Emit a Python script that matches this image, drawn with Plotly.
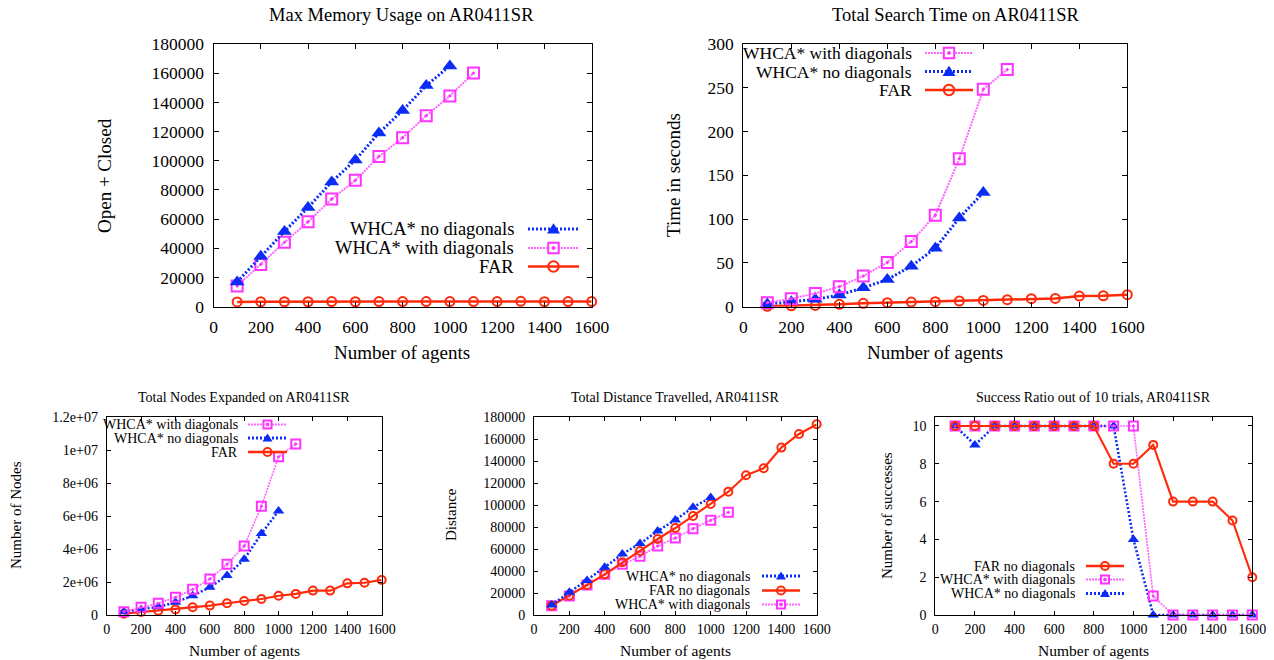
import plotly.graph_objects as go

W, H = 1274, 660
FONT = "Liberation Serif"

agents_far = [100, 200, 300, 400, 500, 600, 700, 800, 900, 1000, 1100, 1200, 1300, 1400, 1500, 1600]
agents_nodiag = [100, 200, 300, 400, 500, 600, 700, 800, 900, 1000]
agents_diag = [100, 200, 300, 400, 500, 600, 700, 800, 900, 1000, 1100]

# Max memory usage (Open + Closed)
mem_nodiag = [17000, 34500, 51500, 68000, 85500, 100500, 119000, 134500, 151500, 165000]
mem_diag = [14200, 29000, 44100, 58200, 73800, 86600, 103000, 115800, 130900, 144400, 160100]
mem_far = [3300, 3400, 3400, 3400, 3500, 3400, 3500, 3500, 3500, 3500, 3500, 3500, 3700, 3400, 3500, 3500]

# Total search time (seconds)
time_diag = [4.6, 9.1, 15.2, 22.8, 35.0, 50.5, 74.4, 104.4, 169.0, 248.4, 270.8]
time_nodiag = [3.0, 5.7, 8.4, 13.3, 21.6, 31.0, 46.3, 66.8, 101.4, 130.3]
time_far = [0.5, 1.1, 1.5, 2.7, 3.8, 4.6, 5.3, 5.7, 6.5, 7.2, 8.0, 9.1, 9.5, 12.2, 12.5, 13.7]

# Total nodes expanded
nodes_diag = [0.20e6, 0.47e6, 0.71e6, 1.07e6, 1.56e6, 2.19e6, 3.08e6, 4.19e6, 6.60e6, 9.60e6, 10.38e6]
nodes_nodiag = [0.20e6, 0.34e6, 0.50e6, 0.77e6, 1.17e6, 1.68e6, 2.39e6, 3.38e6, 4.94e6, 6.32e6]
nodes_far = [0.08e6, 0.18e6, 0.26e6, 0.34e6, 0.47e6, 0.57e6, 0.71e6, 0.85e6, 0.97e6, 1.17e6, 1.28e6, 1.48e6, 1.48e6, 1.92e6, 1.96e6, 2.13e6]
nodes_tickvals = [0, 2e6, 4e6, 6e6, 8e6, 1e7, 1.2e7]
nodes_ticktext = ["0", "2e+06", "4e+06", "6e+06", "8e+06", "1e+07", "1.2e+07"]

# Total distance travelled
dist_nodiag = [9100, 20600, 31300, 43400, 55600, 65000, 76500, 86500, 98100, 106900]
dist_far = [8500, 17600, 27300, 37000, 48000, 58300, 69200, 79200, 90200, 101100, 112300, 127200, 133600, 152400, 164800, 173600]
dist_diag = [8500, 17300, 27300, 37000, 46100, 53400, 62800, 70100, 78600, 86200, 93500]

# Success ratio out of 10 trials
succ_far = [10, 10, 10, 10, 10, 10, 10, 10, 8, 8, 9, 6, 6, 6, 5, 2]
succ_diag = [10, 10, 10, 10, 10, 10, 10, 10, 10, 10, 1, 0, 0, 0, 0, 0]
succ_nodiag = [10, 9, 10, 10, 10, 10, 10, 10, 10, 4, 0, 0, 0, 0, 0, 0]

RED = "#ff2a0a"
BLUE = "#0a2cf5"
MAG = "#ff33ff"
PINK = "#ff66ff"


def px(x):
    return x / W


def py(y):
    return 1 - y / H


# Panel geometry (pixel boxes): left, right, top, bottom
panels = {
    1: dict(box=(213.5, 591.7, 44, 306.7)),
    2: dict(box=(743.3, 1127.3, 44, 306.7)),
    3: dict(box=(106.7, 381.7, 417.3, 615)),
    4: dict(box=(534, 816.7, 417.3, 615)),
    5: dict(box=(935.3, 1252.3, 417.3, 615)),
}

fig = go.Figure()

STY = {
    "far": dict(color=RED, dash="solid", width=2.5, symbol="circle-open"),
    "nodiag": dict(color=BLUE, dash="2px,2px", width=3, symbol="triangle-up"),
    "diag": dict(color=PINK, dash="2px,1px", width=2, symbol="square-open-dot"),
}


def add(i, x, y, kind, big):
    s = STY[kind]
    size = {"far": 9, "nodiag": 13, "diag": 11}[kind] if big else {"far": 8, "nodiag": 10, "diag": 9}[kind]
    mcol = MAG if kind == "diag" else s["color"]
    suffix = "" if i == 1 else str(i)
    fig.add_trace(go.Scatter(
        x=x, y=y, mode="lines+markers", xaxis="x" + suffix, yaxis="y" + suffix,
        line=dict(color=s["color"], dash=s["dash"], width=s["width"] if big else s["width"] * 0.85),
        marker=dict(symbol=s["symbol"], size=size, color=mcol,
                    line=dict(color=mcol, width=2 if kind != "nodiag" else 0)),
        showlegend=False, cliponaxis=False,
    ))


# Panel 1
add(1, agents_far, mem_far, "far", True)
add(1, agents_diag, mem_diag, "diag", True)
add(1, agents_nodiag, mem_nodiag, "nodiag", True)
# Panel 2
add(2, agents_far, time_far, "far", True)
add(2, agents_nodiag, time_nodiag, "nodiag", True)
add(2, agents_diag, time_diag, "diag", True)
# Panel 3
add(3, agents_far, nodes_far, "far", False)
add(3, agents_nodiag, nodes_nodiag, "nodiag", False)
add(3, agents_diag, nodes_diag, "diag", False)
# Panel 4
add(4, agents_diag, dist_diag, "diag", False)
add(4, agents_far, dist_far, "far", False)
add(4, agents_nodiag, dist_nodiag, "nodiag", False)
# Panel 5
add(5, agents_far, succ_nodiag, "nodiag", False)
add(5, agents_far, succ_diag, "diag", False)
add(5, agents_far, succ_far, "far", False)

yranges = {1: [0, 180000], 2: [0, 300], 3: [0, 1.2e7], 4: [0, 180000], 5: [0, 10.46]}
ydticks = {1: 20000, 2: 50, 3: None, 4: 20000, 5: 2}

layout = dict(template="none", width=W, height=H,
              margin=dict(l=0, r=0, t=0, b=0, pad=0, autoexpand=False), autosize=False,
              paper_bgcolor="white", plot_bgcolor="white", showlegend=False,
              font=dict(family=FONT, color="black"))

for i, p in panels.items():
    l, r, t, b = p["box"]
    big = i <= 2
    fs = 17.5 if big else 14
    suffix = "" if i == 1 else str(i)
    common = dict(showline=True, linecolor="black", linewidth=1, mirror="ticks",
                  ticks="inside", ticklen=5 if big else 4, tickcolor="black", tickwidth=1,
                  showgrid=False, zeroline=False, automargin=False,
                  tickfont=dict(family=FONT, size=fs, color="black"), fixedrange=True)
    xa = dict(domain=[px(l), px(r)], range=[0, 1600], dtick=200, tick0=0, tickformat="d",
              anchor="y" + suffix, ticklabelstandoff=4 if big else 1, **common)
    ya = dict(domain=[py(b), py(t)], range=yranges[i], anchor="x" + suffix,
              ticklabelstandoff=5, **common)
    if ydticks[i]:
        ya.update(dtick=ydticks[i], tick0=0, tickformat="d")
    else:
        ya.update(tickvals=nodes_tickvals, ticktext=nodes_ticktext)
    layout["xaxis" + suffix] = xa
    layout["yaxis" + suffix] = ya

annotations = []
shapes = []


def text(x, y, s, size, angle=0, xanchor="center"):
    annotations.append(dict(x=px(x), y=py(y), xref="paper", yref="paper", text=s,
                            showarrow=False, textangle=angle, xanchor=xanchor, yanchor="middle",
                            font=dict(family=FONT, size=size, color="black")))


# Titles and axis labels
text(401, 15, "Max Memory Usage on AR0411SR", 18.5)
text(955, 15, "Total Search Time on AR0411SR", 18.5)
text(402, 353, "Number of agents", 19)
text(935, 353, "Number of agents", 19)
text(104, 175, "Open + Closed", 19, -90)
text(673, 175, "Time in seconds", 19, -90)

text(244, 397.5, "Total Nodes Expanded on AR0411SR", 14)
text(675, 397.5, "Total Distance Travelled, AR0411SR", 14)
text(1093, 397.5, "Success Ratio out of 10 trials, AR0411SR", 14)
for cx in (244, 675, 1093):
    text(cx, 650.5, "Number of agents", 15.5)
text(16, 515, "Number of Nodes", 15, -90)
text(451, 515, "Distance", 15, -90)
text(887, 515, "Number of successes", 15, -90)


def legend(entries, text_right, x0, x1, ys, size, msize):
    xm = (x0 + x1) / 2
    for (label, kind), y in zip(entries, ys):
        s = STY[kind]
        text(text_right, y, label, size, xanchor="right")
        shapes.append(dict(type="line", xref="paper", yref="paper", x0=px(x0), x1=px(x1),
                           y0=py(y), y1=py(y), line=dict(color=s["color"], width=s["width"], dash=s["dash"])))
        h = msize / 2
        if kind == "far":
            shapes.append(dict(type="circle", xref="paper", yref="paper",
                               x0=px(xm - h * 0.8), x1=px(xm + h * 0.8), y0=py(y - h * 0.8), y1=py(y + h * 0.8),
                               line=dict(color=RED, width=2)))
        elif kind == "diag":
            shapes.append(dict(type="rect", xref="paper", yref="paper",
                               x0=px(xm - h * 0.8), x1=px(xm + h * 0.8), y0=py(y - h * 0.8), y1=py(y + h * 0.8),
                               line=dict(color=MAG, width=2), fillcolor="white"))
            shapes.append(dict(type="rect", xref="paper", yref="paper",
                               x0=px(xm - 1.2), x1=px(xm + 1.2), y0=py(y - 1.2), y1=py(y + 1.2),
                               line=dict(color=MAG, width=1), fillcolor=MAG))
        else:
            path = "M {} {} L {} {} L {} {} Z".format(px(xm - h), py(y + h * 0.7), px(xm + h), py(y + h * 0.7),
                                                      px(xm), py(y - h * 0.9))
            shapes.append(dict(type="path", xref="paper", yref="paper", path=path,
                               line=dict(color=BLUE, width=0), fillcolor=BLUE))


legend([("WHCA* no diagonals", "nodiag"), ("WHCA* with diagonals", "diag"), ("FAR", "far")],
       516, 528, 579, [229, 248, 266.5], 18.5, 13)
legend([("WHCA* with diagonals", "diag"), ("WHCA* no diagonals", "nodiag"), ("FAR", "far")],
       914, 925, 973, [53, 71.5, 90], 17.5, 13)
legend([("WHCA* with diagonals", "diag"), ("WHCA* no diagonals", "nodiag"), ("FAR", "far")],
       240, 248, 287, [424.5, 438, 452], 14, 10)
legend([("WHCA* no diagonals", "nodiag"), ("FAR no diagonals", "far"), ("WHCA* with diagonals", "diag")],
       752, 762, 800, [576, 590.5, 604.5], 14, 10)
legend([("FAR no diagonals", "far"), ("WHCA* with diagonals", "diag"), ("WHCA* no diagonals", "nodiag")],
       1077, 1086, 1124, [566, 579.5, 593.5], 14, 10)

layout["annotations"] = annotations
layout["shapes"] = shapes
fig.update_layout(**layout)
fig.write_html("out.html", config={"displayModeBar": False},
               post_script="document.body.style.margin='0px';document.body.style.overflow='hidden';")
